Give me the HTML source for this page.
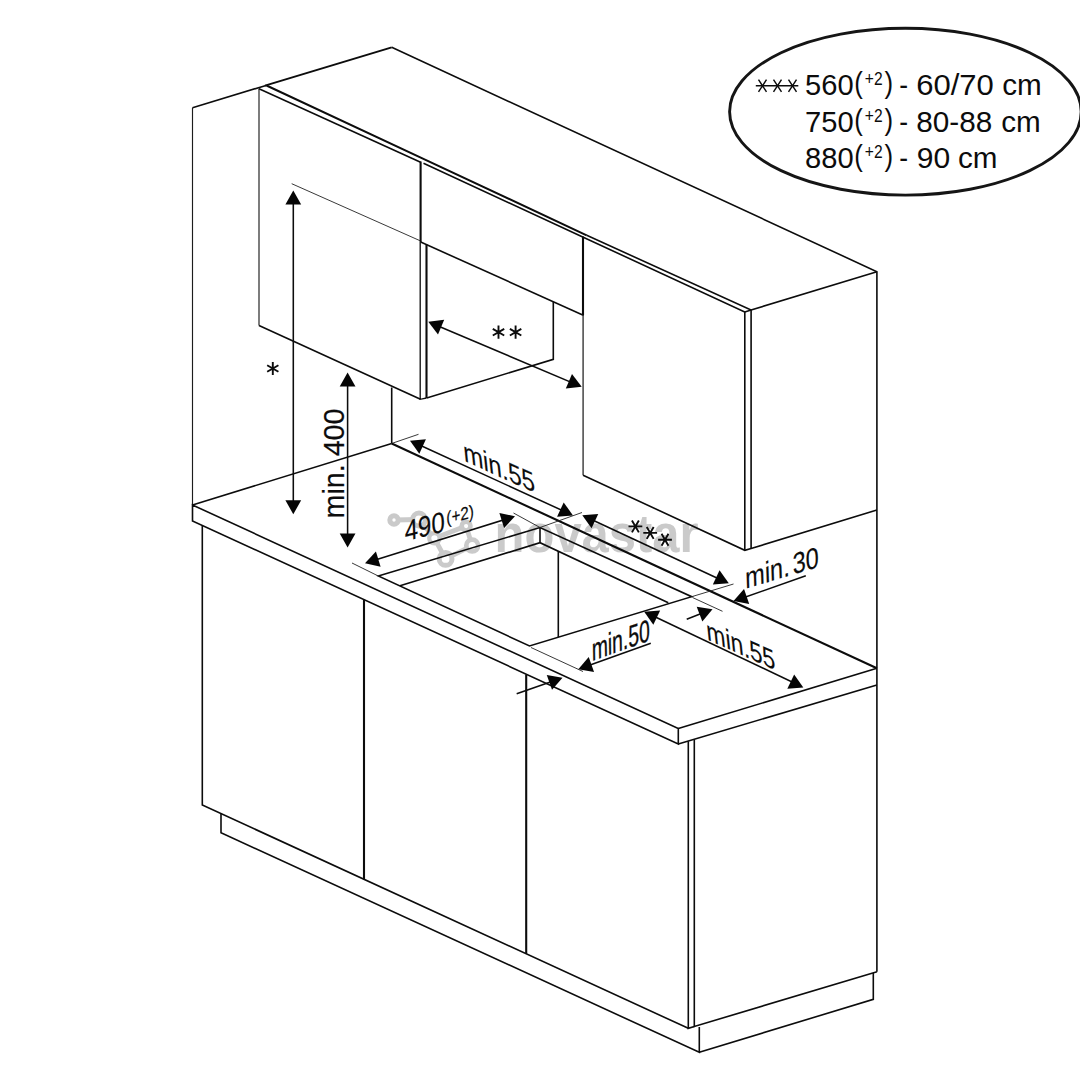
<!DOCTYPE html>
<html><head><meta charset="utf-8">
<style>
html,body{margin:0;padding:0;background:#fff;}
body{width:1080px;height:1080px;overflow:hidden;font-family:"Liberation Sans",sans-serif;}
svg{display:block}
text{font-family:"Liberation Sans",sans-serif;fill:#0c0c0c}
.l{stroke:#0c0c0c;stroke-width:1.6;fill:none;stroke-linecap:butt;stroke-linejoin:miter}
.n{stroke:#1c1c1c;stroke-width:1.15;fill:none}
.b{stroke:#0c0c0c;stroke-width:2.1;fill:none}
.t{stroke:#222;stroke-width:0.9;fill:none}
.d{stroke:#0c0c0c;stroke-width:1.55;fill:none}
.a{fill:#050505;stroke:none}
</style></head><body>
<svg width="1080" height="1080" viewBox="0 0 1080 1080">
<rect width="1080" height="1080" fill="#fff"/>
<g id="wm">
<g stroke="#cacaca" stroke-width="4.8" fill="none">
<line x1="394" y1="520" x2="419" y2="519.5"/>
<line x1="419" y1="519.5" x2="434.4" y2="538.3"/>
<line x1="434.4" y1="538.3" x2="466.1" y2="526.1"/>
<line x1="434.4" y1="538.3" x2="445.6" y2="558.9"/>
<line x1="466.1" y1="526.1" x2="472.2" y2="545.6"/>
<line x1="472.2" y1="545.6" x2="445.6" y2="558.9"/>
</g>
<g fill="#fff" stroke="#cacaca">
<circle cx="394" cy="520" r="4.2" stroke-width="5"/>
<circle cx="419" cy="519.5" r="6.4" stroke-width="5"/>
<circle cx="434.4" cy="538.3" r="5.2" stroke-width="4.2"/>
<circle cx="466.1" cy="526.1" r="4.4" stroke-width="4.6"/>
<circle cx="472.2" cy="545.6" r="5.9" stroke-width="4.7"/>
<circle cx="445.6" cy="558.9" r="6.4" stroke-width="5"/>
</g>
<text x="494.6" y="551.8" font-size="54" font-weight="bold" style="fill:#cacaca" textLength="204" lengthAdjust="spacingAndGlyphs">novastar</text>
</g>
<g class="n">
<path d="M192.5 505 V107.7"/>
<path d="M259 88.7 V325.5"/>
<path d="M583.1 315 V475.2" style="stroke:#444;stroke-width:1.5"/>
</g>
<g class="l" id="struct">
<path d="M192.5 107.7 L266 85.4"/>
<path d="M265 85.7 L391.7 47.3" style="stroke-width:1.9"/>
<path d="M391.7 47.3 L876.9 271.7 V971.7"/>
<path d="M420.6 162.2 L259 88.7"/>
<path d="M259 325.5 L420.5 399.3"/>
<path d="M266.5 85.5 L424.5 159.3 L586.7 235.3" style="stroke-width:2"/>
<path d="M586.7 235.3 L751.1 310 V548.5"/>
<path d="M420.2 242 V399.3 L426.5 398" style="stroke-width:1.3"/>
<path d="M423.5 163.2 L582.7 237 L744.8 311.9 V550.3"/>
<path d="M744.8 311.9 L751.1 310"/>
<path d="M420.7 242 L582.7 315"/>
<path d="M583.1 475.2 L744.8 550.3 L751.1 548.5 L876.9 510"/>
<path d="M553.3 302 V359.3 L426.7 398"/>
<path d="M751.1 310 L876.9 271.7"/>
<path d="M391.7 387.5 V443.5"/>
<path d="M192.5 505 L391.7 443.5"/>
<path d="M391.7 443.5 L876.9 668.3" style="stroke-width:2.1"/>
<path d="M192.5 505 V521 L678.3 744 V728.5 Z"/>
<path d="M678.3 728.5 L876.9 668.3"/>
<path d="M678.3 744 L876.9 685"/>
<path d="M202.3 525.5 V805 L688.3 1028.3"/>
<path d="M688.3 741.2 V1028.3 L694.3 1026.5"/>
<path d="M694.3 739.5 V1026.5 L877 971.7"/>
<path d="M221 813.8 V832.7 L699.3 1052.3 V1027"/>
<path d="M699.3 1052.3 L873.3 999.3 V973"/>
<path d="M378.3 576 L540 527.5 L691.7 596.7 L529.5 646 Z"/>
<path d="M400 585.8 L540 542.7 L668.3 602.7"/>
<path d="M540 527.5 V542.7"/>
<path d="M558.3 551.2 V637"/>
</g>
<g class="b">
<path d="M420.6 161.5 V242"/>
<path d="M583 236.5 V315.5"/>
<path d="M426.5 244.5 V398"/>
<path d="M364 599.5 V879.3"/>
<path d="M526.2 674.5 V953.7"/>
</g>
<g class="t">
<path d="M291.7 183.7 L420 240.7"/>
<path d="M393 443 L418.5 434.3"/>
<path d="M352 563 L378.3 576"/>
<path d="M513.5 513 L540 527.5 L582 512.5"/>
<path d="M691.7 596.7 L733.5 584"/>
<path d="M692.5 597.5 L722.5 611.3"/>
<path d="M531 647.5 L583 671.5"/>
</g>
<g class="d">
<path d="M293.3 195 V510"/>
<path d="M347.6 376 V544"/>
<path d="M431 323 L579 385.6"/>
<path d="M413 442 L570 514"/>
<path d="M368 562.3 L512 517.3"/>
<path d="M585 516.5 L725.5 582"/>
<path d="M737 600 L805.8 575.8"/>
<path d="M647 613 L800.5 686"/>
<path d="M581 668.2 L650.8 643.3"/>
<path d="M516.7 693.8 L559 679"/>
<path d="M686.7 619.2 L709.5 610.3"/>
</g>
<g class="a">
<path d="M0 0 L-13.9 -7.9 L-13.9 7.9 Z" transform="translate(293.3 190.6) rotate(-90)"/>
<path d="M0 0 L-13.9 -7.9 L-13.9 7.9 Z" transform="translate(293.3 514.2) rotate(90)"/>
<path d="M0 0 L-13.9 -7.9 L-13.9 7.9 Z" transform="translate(347.6 372.5) rotate(-90)"/>
<path d="M0 0 L-13.9 -7.9 L-13.9 7.9 Z" transform="translate(347.6 547.4) rotate(90)"/>
<path d="M0 0 L-13.9 -7.9 L-13.9 7.9 Z" transform="translate(428.3 321.7) rotate(203)"/>
<path d="M0 0 L-13.9 -7.9 L-13.9 7.9 Z" transform="translate(581.7 386.7) rotate(23)"/>
<path d="M0 0 L-13.9 -7.9 L-13.9 7.9 Z" transform="translate(410 440.7) rotate(204.7)"/>
<path d="M0 0 L-13.9 -7.9 L-13.9 7.9 Z" transform="translate(573 515.4) rotate(24.7)"/>
<path d="M0 0 L-13.9 -7.9 L-13.9 7.9 Z" transform="translate(365 563.3) rotate(162.6)"/>
<path d="M0 0 L-13.9 -7.9 L-13.9 7.9 Z" transform="translate(515 516.3) rotate(-17.4)"/>
<path d="M0 0 L-13.9 -7.9 L-13.9 7.9 Z" transform="translate(582.3 515.3) rotate(205)"/>
<path d="M0 0 L-13.9 -7.9 L-13.9 7.9 Z" transform="translate(728.8 583.2) rotate(25)"/>
<path d="M0 0 L-13.9 -7.9 L-13.9 7.9 Z" transform="translate(733.5 601) rotate(160.8)"/>
<path d="M0 0 L-13.9 -7.9 L-13.9 7.9 Z" transform="translate(644.2 611.7) rotate(205.5)"/>
<path d="M0 0 L-13.9 -7.9 L-13.9 7.9 Z" transform="translate(803.3 687.5) rotate(25.5)"/>
<path d="M0 0 L-13.9 -7.9 L-13.9 7.9 Z" transform="translate(578.3 669.2) rotate(160.3)"/>
<path d="M0 0 L-13.9 -7.9 L-13.9 7.9 Z" transform="translate(562.5 677.7) rotate(-19.5)"/>
<path d="M0 0 L-13.9 -7.9 L-13.9 7.9 Z" transform="translate(712.5 609.2) rotate(-21)"/>
</g>
<g id="labels">
<path d="M272.80 362.00 L272.80 375.00 M278.43 365.25 L267.17 371.75 M278.43 371.75 L267.17 365.25" stroke="#0c0c0c" stroke-width="1.9" fill="none" stroke-linecap="butt"/>
<path d="M498.50 325.60 L498.50 338.80 M504.22 328.90 L492.78 335.50 M504.22 335.50 L492.78 328.90" stroke="#0c0c0c" stroke-width="1.9" fill="none" stroke-linecap="butt"/>
<path d="M515.60 325.60 L515.60 338.80 M521.32 328.90 L509.88 335.50 M521.32 335.50 L509.88 328.90" stroke="#0c0c0c" stroke-width="1.9" fill="none" stroke-linecap="butt"/>
<path d="M628.50 526.40 L642.30 526.40 M631.95 520.42 L638.85 532.38 M638.85 520.42 L631.95 532.38" stroke="#0c0c0c" stroke-width="1.9" fill="none" stroke-linecap="butt"/>
<path d="M643.30 532.90 L657.10 532.90 M646.75 526.92 L653.65 538.88 M653.65 526.92 L646.75 538.88" stroke="#0c0c0c" stroke-width="1.9" fill="none" stroke-linecap="butt"/>
<path d="M658.10 539.80 L671.90 539.80 M661.55 533.82 L668.45 545.78 M668.45 533.82 L661.55 545.78" stroke="#0c0c0c" stroke-width="1.9" fill="none" stroke-linecap="butt"/>
<text transform="translate(344.3 518.5) rotate(-90)" font-size="29.5" textLength="110" lengthAdjust="spacingAndGlyphs" stroke="#0c0c0c" stroke-width="0.2">min. 400</text>
<text transform="matrix(0.9114 0.4115 0.1045 0.9945 464.2 460.8)" font-size="28.5" textLength="78.5" lengthAdjust="spacingAndGlyphs" stroke="#0c0c0c" stroke-width="0.15" >min.55</text>
<text transform="matrix(0.9677 -0.2521 0.0349 0.9994 404.9 541.6)" font-size="29" textLength="41.5" lengthAdjust="spacingAndGlyphs" stroke="#0c0c0c" stroke-width="0.15" >490</text>
<text transform="matrix(0.9677 -0.2521 0.0349 0.9994 446.6 524.3)" font-size="18" textLength="28.3" lengthAdjust="spacingAndGlyphs" stroke="#0c0c0c" stroke-width="0.2" >(+2)</text>
<text transform="matrix(0.9588 -0.2840 0.0349 0.9994 745.6 588.7)" font-size="29.5" textLength="46.2" lengthAdjust="spacingAndGlyphs" stroke="#0c0c0c" stroke-width="0.15" >min.</text>
<text transform="matrix(0.9588 -0.2840 0.0349 0.9994 792.9 574.6)" font-size="29.5" textLength="27.3" lengthAdjust="spacingAndGlyphs" stroke="#0c0c0c" stroke-width="0.15" >30</text>
<text transform="matrix(0.9426 -0.3338 0.0175 0.9998 591.9 661)" font-size="31" textLength="61.5" lengthAdjust="spacingAndGlyphs" stroke="#0c0c0c" stroke-width="0.35" >min.50</text>
<text transform="matrix(0.9107 0.4131 0.1045 0.9945 707.3 639.4)" font-size="28.3" textLength="75.5" lengthAdjust="spacingAndGlyphs" stroke="#0c0c0c" stroke-width="0.15" >min.55</text>
</g>
<ellipse cx="905.4" cy="111.7" rx="175.8" ry="83.4" fill="none" stroke="#151515" stroke-width="2.9"/>
<g font-size="29" id="legend">
<text x="805" y="95" textLength="48.6" lengthAdjust="spacingAndGlyphs">560</text>
<text x="854.3" y="93" textLength="8.6" lengthAdjust="spacingAndGlyphs">(</text>
<text x="864.8" y="85" font-size="19" textLength="17.8" lengthAdjust="spacingAndGlyphs">+2</text>
<text x="884.4" y="93" textLength="8.6" lengthAdjust="spacingAndGlyphs">)</text>
<text x="899.3" y="95" textLength="8.8" lengthAdjust="spacingAndGlyphs">-</text>
<text x="916.2" y="95" textLength="77.6" lengthAdjust="spacingAndGlyphs">60/70</text>
<text x="1002.3" y="95" textLength="39.5" lengthAdjust="spacingAndGlyphs">cm</text>
<text x="805" y="131.7" textLength="48.6" lengthAdjust="spacingAndGlyphs">750</text>
<text x="854.3" y="129.7" textLength="8.6" lengthAdjust="spacingAndGlyphs">(</text>
<text x="864.8" y="121.69999999999999" font-size="19" textLength="17.8" lengthAdjust="spacingAndGlyphs">+2</text>
<text x="884.4" y="129.7" textLength="8.6" lengthAdjust="spacingAndGlyphs">)</text>
<text x="899.3" y="131.7" textLength="8.8" lengthAdjust="spacingAndGlyphs">-</text>
<text x="916.2" y="131.7" textLength="76" lengthAdjust="spacingAndGlyphs">80-88</text>
<text x="1001.3" y="131.7" textLength="39.5" lengthAdjust="spacingAndGlyphs">cm</text>
<text x="805" y="167.7" textLength="48.6" lengthAdjust="spacingAndGlyphs">880</text>
<text x="854.3" y="165.7" textLength="8.6" lengthAdjust="spacingAndGlyphs">(</text>
<text x="864.8" y="157.7" font-size="19" textLength="17.8" lengthAdjust="spacingAndGlyphs">+2</text>
<text x="884.4" y="165.7" textLength="8.6" lengthAdjust="spacingAndGlyphs">)</text>
<text x="899.3" y="167.7" textLength="8.8" lengthAdjust="spacingAndGlyphs">-</text>
<text x="916.8" y="167.7" textLength="33.4" lengthAdjust="spacingAndGlyphs">90</text>
<text x="958" y="167.7" textLength="39.5" lengthAdjust="spacingAndGlyphs">cm</text>
</g>
<path d="M755.8 85.8 H798.3" stroke="#0c0c0c" stroke-width="1.4"/>
<path d="M758.5 79.7 L766.5 91.89999999999999 M766.5 79.7 L758.5 91.89999999999999" stroke="#0c0c0c" stroke-width="1.45" fill="none"/>
<path d="M773.5 79.7 L781.5 91.89999999999999 M781.5 79.7 L773.5 91.89999999999999" stroke="#0c0c0c" stroke-width="1.45" fill="none"/>
<path d="M788.5 79.7 L796.5 91.89999999999999 M796.5 79.7 L788.5 91.89999999999999" stroke="#0c0c0c" stroke-width="1.45" fill="none"/>
</svg>
</body></html>
